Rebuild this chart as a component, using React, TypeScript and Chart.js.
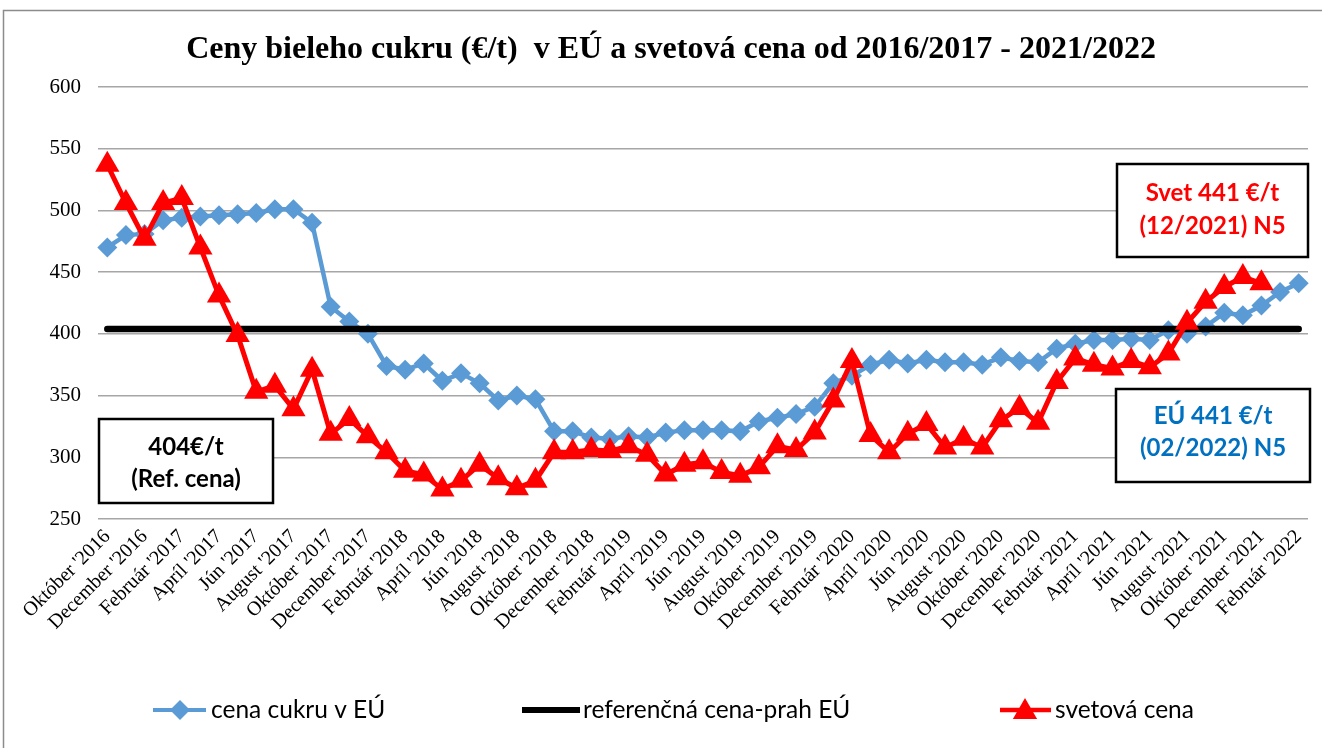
import React, { useEffect, useRef } from "react";
import { Chart, registerables } from "chart.js";

Chart.register(...registerables);

const months: string[] = [
  "Október '2016", "November '2016", "December '2016",
  "Január '2017", "Február '2017", "Marec '2017", "Apríl '2017", "Máj '2017", "Jún '2017",
  "Júl '2017", "August '2017", "September '2017", "Október '2017", "November '2017", "December '2017",
  "Január '2018", "Február '2018", "Marec '2018", "Apríl '2018", "Máj '2018", "Jún '2018",
  "Júl '2018", "August '2018", "September '2018", "Október '2018", "November '2018", "December '2018",
  "Január '2019", "Február '2019", "Marec '2019", "Apríl '2019", "Máj '2019", "Jún '2019",
  "Júl '2019", "August '2019", "September '2019", "Október '2019", "November '2019", "December '2019",
  "Január '2020", "Február '2020", "Marec '2020", "Apríl '2020", "Máj '2020", "Jún '2020",
  "Júl '2020", "August '2020", "September '2020", "Október '2020", "November '2020", "December '2020",
  "Január '2021", "Február '2021", "Marec '2021", "Apríl '2021", "Máj '2021", "Jún '2021",
  "Júl '2021", "August '2021", "September '2021", "Október '2021", "November '2021", "December '2021",
  "Január '2022", "Február '2022",
];

// cena cukru v EÚ (€/t)
const euPrice: number[] = [
  470, 480, 481, 492, 494, 495, 496, 497, 498, 501, 501, 490,
  422, 410, 400, 374, 371, 376, 362, 368, 360, 346, 350, 347,
  321, 321, 316, 315, 317, 316, 320, 322, 322, 322, 321, 329,
  332, 335, 341, 360, 366, 375, 379, 376, 379, 377, 377, 375,
  381, 378, 377, 388, 392, 395, 395, 396, 395, 403, 400, 406,
  417, 415, 423, 434, 441,
];

// svetová cena (€/t)
const worldPrice: number[] = [
  537, 506, 477, 506, 510, 470, 431, 399, 353, 358, 339, 371,
  319, 331, 317, 304, 289, 286, 274, 281, 294, 283, 275, 281,
  304, 304, 306, 305, 309, 302, 286, 294, 296, 288, 285, 292,
  309, 306, 320, 346, 378, 318, 304, 319, 327, 308, 315, 308,
  330, 340, 328, 361, 380, 375, 372, 378, 373, 384, 409, 426,
  438, 446, 441,
];

// referenčná cena-prah EÚ (€/t)
const refPrice = 404;
const refPoints = [
  { x: "Október '2016", y: refPrice },
  { x: "Február '2022", y: refPrice },
];

const yMin = 250;
const yMax = 600;
const yStep = 50;

const titleText = "Ceny bieleho cukru (€/t)  v EÚ a svetová cena od 2016/2017 - 2021/2022";
const legendLabels = ["cena cukru v EÚ", "referenčná cena-prah EÚ", "svetová cena"];
const boxRef = ["404€/t", "(Ref. cena)"];
const boxWorld = ["Svet 441 €/t", "(12/2021) N5"];
const boxEu = ["EÚ 441 €/t", "(02/2022) N5"];

const BLUE = "#5b9bd5";
const RED = "#ff0000";
const BLACK = "#000000";
const BOX_BLUE = "#0070c0";
const SANS = "Lato, 'Noto Sans', sans-serif";
const SERIF = "'Liberation Serif', 'Times New Roman', serif";

function diamond(ctx: CanvasRenderingContext2D, x: number, y: number, r: number, color: string) {
  ctx.beginPath();
  ctx.moveTo(x, y - r);
  ctx.lineTo(x + r, y);
  ctx.lineTo(x, y + r);
  ctx.lineTo(x - r, y);
  ctx.closePath();
  ctx.fillStyle = color;
  ctx.fill();
}

function triangle(ctx: CanvasRenderingContext2D, x: number, y: number, r: number, color: string) {
  const h = r * 1.5;
  const w = r * Math.sqrt(3);
  ctx.beginPath();
  ctx.moveTo(x, y - r);
  ctx.lineTo(x + w / 2, y - r + h);
  ctx.lineTo(x - w / 2, y - r + h);
  ctx.closePath();
  ctx.fillStyle = color;
  ctx.fill();
}

function textBox(
  ctx: CanvasRenderingContext2D,
  x: number, y: number, w: number, h: number,
  lines: string[], color: string, lineGap: number, shift: number,
) {
  ctx.save();
  ctx.fillStyle = "#ffffff";
  ctx.fillRect(x, y, w, h);
  ctx.strokeStyle = "#000000";
  ctx.lineWidth = 2.5;
  ctx.strokeRect(x, y, w, h);
  ctx.fillStyle = color;
  ctx.font = `bold 24px ${SANS}`;
  ctx.textAlign = "center";
  ctx.textBaseline = "middle";
  const cx = x + w / 2;
  const cy = y + h / 2 + shift;
  ctx.fillText(lines[0], cx, cy - lineGap / 2);
  ctx.fillText(lines[1], cx, cy + lineGap / 2);
  ctx.restore();
}

const decorPlugin = {
  id: "decor",
  afterDraw(chart: any) {
    const ctx: CanvasRenderingContext2D = chart.ctx;
    ctx.save();
    // outer frame
    ctx.strokeStyle = "#8c8c8c";
    ctx.lineWidth = 1.5;
    ctx.strokeRect(3.5, 10.5, 1340, 760);

    // title
    ctx.fillStyle = "#000";
    ctx.font = `bold 32px ${SERIF}`;
    ctx.textAlign = "center";
    ctx.textBaseline = "middle";
    ctx.fillText(titleText, 671, 50);

    // annotation boxes
    textBox(ctx, 99, 419, 174, 84, boxRef, "#000000", 32, 2);
    textBox(ctx, 1117, 164, 191, 93, boxWorld, RED, 33, -1);
    textBox(ctx, 1116, 389, 194, 93, boxEu, BOX_BLUE, 32, -3);

    // legend
    const ly = 710;
    ctx.lineCap = "butt";
    ctx.font = `24.5px ${SANS}`;
    ctx.textAlign = "left";
    ctx.textBaseline = "middle";

    ctx.strokeStyle = BLUE;
    ctx.lineWidth = 4;
    ctx.beginPath(); ctx.moveTo(153, ly); ctx.lineTo(206, ly); ctx.stroke();
    diamond(ctx, 180, ly, 10, BLUE);
    ctx.fillStyle = "#000";
    ctx.fillText(legendLabels[0], 211, ly);

    ctx.strokeStyle = BLACK;
    ctx.lineWidth = 6;
    ctx.beginPath(); ctx.moveTo(522, ly); ctx.lineTo(580, ly); ctx.stroke();
    ctx.fillStyle = "#000";
    ctx.fillText(legendLabels[1], 583, ly);

    ctx.strokeStyle = RED;
    ctx.lineWidth = 4.5;
    ctx.beginPath(); ctx.moveTo(1000, ly); ctx.lineTo(1051, ly); ctx.stroke();
    triangle(ctx, 1025, ly + 2, 14, RED);
    ctx.fillStyle = "#000";
    ctx.fillText(legendLabels[2], 1055, ly);

    ctx.restore();
  },
};

export default function App() {
  const canvasRef = useRef<HTMLCanvasElement | null>(null);

  useEffect(() => {
    const canvas = canvasRef.current;
    if (!canvas) return;
    const chart = new Chart(canvas, {
      type: "line",
      data: {
        labels: months,
        datasets: [
          {
            label: legendLabels[2],
            data: worldPrice,
            borderColor: RED,
            backgroundColor: RED,
            borderWidth: 5,
            pointStyle: "triangle",
            pointRadius: 14,
            pointBorderWidth: 0,
            pointBackgroundColor: RED,
            tension: 0,
          },
          {
            label: legendLabels[1],
            data: refPoints as any,
            borderColor: BLACK,
            backgroundColor: BLACK,
            borderWidth: 6.5,
            pointRadius: 0,
            borderCapStyle: "round",
            tension: 0,
          },
          {
            label: legendLabels[0],
            data: euPrice,
            borderColor: BLUE,
            backgroundColor: BLUE,
            borderWidth: 4.5,
            pointStyle: "rectRot",
            pointRadius: 10,
            pointBorderWidth: 0,
            pointBackgroundColor: BLUE,
            tension: 0,
          },
        ],
      },
      options: {
        animation: false,
        responsive: false,
        layout: { padding: { top: 87, right: 12, left: 0, bottom: 0 } },
        plugins: {
          legend: { display: false },
          title: { display: false },
          tooltip: { enabled: false },
        },
        scales: {
          x: {
            type: "category",
            offset: true,
            grid: { display: false, drawTicks: false },
            border: { display: false },
            afterFit: (scale: any) => { scale.height = 229; },
            ticks: {
              autoSkip: false,
              maxRotation: 45,
              minRotation: 45,
              padding: 6,
              color: "#000",
              font: { family: SERIF, size: 20 },
              callback: (_v: any, i: number) => (i % 2 === 0 ? months[i] : ""),
            },
          },
          y: {
            min: yMin,
            max: yMax,
            grid: { color: "#a6a6a6", lineWidth: 1.5, drawTicks: false },
            border: { display: false },
            afterFit: (scale: any) => { scale.width = 98; },
            ticks: {
              stepSize: yStep,
              padding: 17,
              color: "#000",
              font: { family: SERIF, size: 21 },
            },
          },
        },
      },
      plugins: [decorPlugin],
    });
    return () => chart.destroy();
  }, []);

  return (
    <div style={{ position: "absolute", left: 0, top: 0, width: 1322, height: 748, background: "#fff" }}>
      <canvas ref={canvasRef} width={1322} height={748} style={{ display: "block" }} />
    </div>
  );
}
